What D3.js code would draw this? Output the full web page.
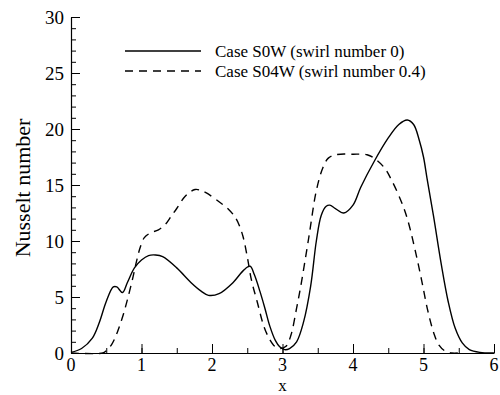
<!DOCTYPE html>
<html>
<head>
<meta charset="utf-8">
<script src="https://cdn.jsdelivr.net/npm/d3@7"></script>
<style>
  body { margin: 0; background: #fff; }
  svg { font-family: "Liberation Serif", "Times New Roman", serif; }
</style>
</head>
<body>
<div id="chart"></div>
<script>
// Case S0W (swirl number 0)
const xS0W = [0, 0.15, 0.3, 0.4, 0.5, 0.6, 0.65, 0.73, 0.8, 0.9, 1.0, 1.1, 1.2, 1.3, 1.5, 1.7, 1.85, 1.95,
  2.1, 2.3, 2.45, 2.54, 2.6, 2.68, 2.75, 2.82, 2.9, 2.96, 3.03, 3.1, 3.2, 3.3, 3.4, 3.48, 3.55, 3.62, 3.67,
  3.75, 3.87, 4.0, 4.11, 4.3, 4.5, 4.65, 4.77, 4.86, 4.94, 5.0, 5.05, 5.14, 5.25, 5.35, 5.45, 5.55, 5.65, 5.8, 6.0];
const yS0W = [0.05, 0.4, 1.3, 2.7, 4.6, 5.9, 5.9, 5.4, 6.3, 7.6, 8.3, 8.7, 8.75, 8.6, 7.6, 6.3, 5.5, 5.15,
  5.3, 6.3, 7.4, 7.75, 7.0, 5.5, 4.0, 2.4, 1.1, 0.55, 0.3, 0.4, 1.0, 2.8, 6.0, 10.0, 12.3, 13.1, 13.2,
  12.9, 12.5, 13.2, 14.8, 17.1, 19.2, 20.4, 20.8, 20.4, 19.0, 17.5, 15.6, 12.3, 8.0, 4.6, 2.2, 0.9, 0.3, 0.05, 0];

// Case S04W (swirl number 0.4)
const xS04W = [0, 0.45, 0.5, 0.58, 0.66, 0.74, 0.81, 0.88, 0.93, 0.98, 1.04, 1.12, 1.24, 1.34, 1.42, 1.5,
  1.62, 1.76, 1.85, 1.92, 2.1, 2.24, 2.32, 2.38, 2.44, 2.5, 2.56, 2.64, 2.74, 2.82, 2.89, 2.97, 3.05, 3.12,
  3.2, 3.26, 3.37, 3.48, 3.57, 3.65, 3.75, 4.0, 4.2, 4.32, 4.45, 4.55, 4.68, 4.77, 4.87, 4.97, 5.06, 5.15,
  5.22, 5.3, 5.4, 5.5];
const yS04W = [0, 0, 0.2, 0.8, 1.9, 3.4, 5.0, 6.8, 8.2, 9.4, 10.3, 10.7, 11.0, 11.5, 12.2, 12.9,
  14.0, 14.6, 14.5, 14.3, 13.5, 12.8, 12.2, 11.5, 10.4, 8.6, 6.5, 4.6, 2.3, 1.2, 0.6, 0.4, 0.6, 1.6,
  4.0, 6.0, 10.2, 14.5, 16.5, 17.4, 17.7, 17.75, 17.7, 17.3, 16.5, 15.4, 13.6, 12.0, 9.5, 6.6, 3.8, 1.7,
  0.7, 0.2, 0, 0];

const seriesNames = ["Case S0W (swirl number 0)", "Case S04W (swirl number 0.4)"];
const xTicks = [0, 1, 2, 3, 4, 5, 6];
const yTicks = [0, 5, 10, 15, 20, 25, 30];

const width = 500, height = 395;

const svg = d3.select("#chart").append("svg")
  .attr("width", width)
  .attr("height", height);

const x = d3.scaleLinear().domain([0, 6]).range([71, 494]);
const y = d3.scaleLinear().domain([0, 30]).range([353, 17]);

const line = d3.line()
  .x(d => x(d[0]))
  .y(d => y(Math.max(0, d[1])))
  .curve(d3.curveCatmullRom.alpha(0.5));

// axes: minor ticks first, then major ticks with labels
svg.append("g")
  .attr("transform", "translate(71,0)")
  .call(d3.axisRight(y).tickValues(d3.range(0, 31, 1)).tickSize(5).tickFormat(""))
  .call(g => g.select(".domain").remove());

svg.append("g")
  .attr("transform", "translate(71,0)")
  .call(d3.axisRight(y).tickValues(yTicks).tickSize(9).tickSizeOuter(0).tickFormat(""))
  .call(g => g.select(".domain").attr("stroke-width", 1.2));

svg.append("g")
  .selectAll("text")
  .data(yTicks)
  .join("text")
  .attr("x", 64)
  .attr("y", d => y(d))
  .attr("dy", "0.35em")
  .attr("text-anchor", "end")
  .attr("font-size", 19)
  .text(d => d);

svg.append("g")
  .attr("transform", "translate(0,353)")
  .call(d3.axisTop(x).tickValues(d3.range(0, 6.01, 0.5)).tickSize(5).tickFormat(""))
  .call(g => g.select(".domain").remove());

svg.append("g")
  .attr("transform", "translate(0,353)")
  .call(d3.axisTop(x).tickValues(xTicks).tickSize(9).tickSizeOuter(0).tickFormat(""))
  .call(g => g.select(".domain").attr("stroke-width", 1.2));

svg.append("g")
  .selectAll("text")
  .data(xTicks)
  .join("text")
  .attr("x", d => x(d))
  .attr("y", 371)
  .attr("text-anchor", "middle")
  .attr("font-size", 18)
  .text(d => d);

// axis titles
svg.append("text")
  .attr("x", x(3))
  .attr("y", 391)
  .attr("text-anchor", "middle")
  .attr("font-size", 17)
  .text("x");

svg.append("text")
  .attr("transform", "translate(30,188) rotate(-90)")
  .attr("text-anchor", "middle")
  .attr("font-size", 22)
  .text("Nusselt number");

// curves
svg.append("path")
  .datum(d3.zip(xS0W, yS0W))
  .attr("fill", "none")
  .attr("stroke", "#000")
  .attr("stroke-width", 1.4)
  .attr("d", line);

svg.append("path")
  .datum(d3.zip(xS04W, yS04W))
  .attr("fill", "none")
  .attr("stroke", "#000")
  .attr("stroke-width", 1.4)
  .attr("stroke-dasharray", "8,6")
  .attr("d", line);

// legend
const legend = svg.append("g");
const dashes = [null, "8,6"];
seriesNames.forEach((name, i) => {
  const ly = 51 + i * 20;
  legend.append("line")
    .attr("x1", 125).attr("x2", 201)
    .attr("y1", ly).attr("y2", ly)
    .attr("stroke", "#000")
    .attr("stroke-width", 1.4)
    .attr("stroke-dasharray", dashes[i]);
  legend.append("text")
    .attr("x", 215)
    .attr("y", ly)
    .attr("dy", "0.35em")
    .attr("font-size", 17)
    .text(name);
});
</script>
</body>
</html>
